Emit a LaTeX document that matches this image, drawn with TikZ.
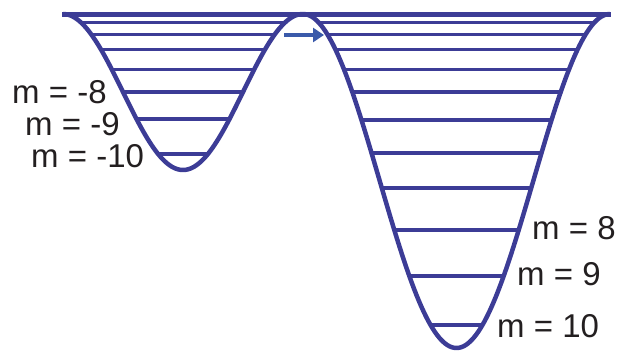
\documentclass[tikz,border=0pt]{standalone}
\usepackage{fontspec}
\setmainfont{Liberation Sans}
\usetikzlibrary{arrows.meta}
\definecolor{wellblue}{RGB}{60,60,150}
\definecolor{arrowblue}{RGB}{58,90,170}
\definecolor{textgray}{RGB}{35,31,32}
\tikzset{
  wellcurve/.style={draw=wellblue, line width=4.5pt},
  level/.style={draw=wellblue, line width=3.5pt},
  toplevel/.style={draw=wellblue, line width=5pt},
  mlabel/.style={anchor=base west, inner sep=0pt, text=textgray, font=\fontsize{33}{36}\selectfont},
  tunnel/.style={draw=arrowblue, line width=3.8pt, -{Triangle[length=11pt,width=14pt]}}
}
\begin{document}
\begin{tikzpicture}[x=1pt,y=-1pt]
\useasboundingbox (0,0) rectangle (626,351);
% top line
\coordinate (topL) at (62,14.7);
\coordinate (topR) at (611,14.7);
\draw[toplevel] (topL) -- (topR);
% left well levels
\foreach \L in {22.5,34.5,49.5,69.5,92,119,154}{
  \pgfmathsetmacro{\d}{acos(1-(\L-14)/78)/1.5}
  \draw[level] ({63+\d},\L) -- ({303-\d},\L);
}
% right well levels
\foreach \L in {22.5,34.5,49.5,69.5,92,120,153,188,230,276,325}{
  \pgfmathsetmacro{\d}{acos(1-(\L-14)/167)/1.17264}
  \draw[level] ({303+\d},\L) -- ({610-\d},\L);
}
% wells
\draw[wellcurve] plot[domain=63:303, samples=120, smooth] (\x, {14+78*(1-cos(1.5*(\x-63)))});
\draw[wellcurve] plot[domain=303:610, samples=150, smooth] (\x, {14+167*(1-cos(1.17264*(\x-303)))});
% arrow
\coordinate (arrS) at (284,35);
\coordinate (arrE) at (324,35);
\draw[tunnel] (arrS) -- (arrE);
% labels
\node[mlabel] (lm8) at (12,103) {m = -8};
\node[mlabel] (lm9) at (25,135) {m = -9};
\node[mlabel] (lm10) at (31,167) {m = -10};
\node[mlabel] (rm8) at (532,239) {m = 8};
\node[mlabel] (rm9) at (517,285) {m = 9};
\node[mlabel] (rm10) at (497,337) {m = 10};
\end{tikzpicture}
\end{document}
